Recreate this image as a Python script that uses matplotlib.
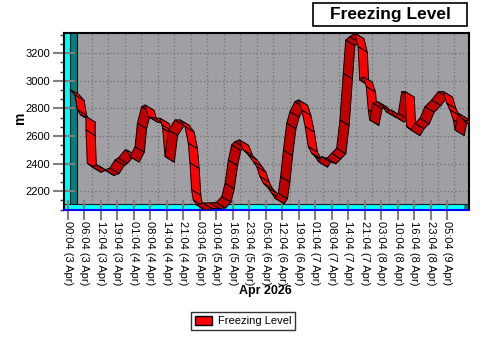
import numpy as np
import matplotlib
matplotlib.use('Agg')
import matplotlib.pyplot as plt
from matplotlib.collections import PolyCollection
from matplotlib.patches import Rectangle, Patch

plt.rcParams['font.family'] = ['Liberation Sans', 'DejaVu Sans']

# time axis is categorical: one unit = one tick label
tick_labels = ["00:04 (3 Apr)", "06:04 (3 Apr)", "12:04 (3 Apr)", "19:04 (3 Apr)",
               "01:04 (4 Apr)", "08:04 (4 Apr)", "14:04 (4 Apr)", "21:04 (4 Apr)",
               "03:04 (5 Apr)", "10:04 (5 Apr)", "16:04 (5 Apr)", "23:04 (5 Apr)",
               "05:04 (6 Apr)", "12:04 (6 Apr)", "19:04 (6 Apr)", "01:04 (7 Apr)",
               "08:04 (7 Apr)", "14:04 (7 Apr)", "21:04 (7 Apr)", "03:04 (8 Apr)",
               "10:04 (8 Apr)", "16:04 (8 Apr)", "23:04 (8 Apr)", "05:04 (9 Apr)"]

pos = [0.12, 0.42, 0.57, 0.77, 1.09, 1.09, 1.17, 1.44, 1.74, 1.94, 2.24, 2.55, 2.85,
       3.05, 3.46, 3.56, 3.76, 4.07, 4.21, 4.47, 4.67, 4.87, 5.28, 5.58, 5.70, 5.74,
       5.89, 6.09, 6.49, 6.80, 7.10, 7.30, 7.40, 7.50, 7.60, 7.80, 8.20, 8.60, 9.00,
       9.33, 9.53, 9.73, 9.93, 10.13, 10.40, 10.64, 10.94, 11.24, 11.45, 11.65, 11.85,
       12.15, 12.36, 12.56, 12.76, 12.90, 13.07, 13.27, 13.47, 13.77, 13.98, 14.18,
       14.39, 14.58, 14.79, 14.99, 15.19, 15.39, 15.70, 16.00, 16.30, 16.50, 16.70,
       16.85, 17.10, 17.40, 17.60, 17.70, 17.90, 18.10, 18.22, 18.30, 18.50, 18.80,
       19.10, 19.30, 19.60, 19.84, 20.04, 20.25, 20.45, 20.55, 20.80, 21.05, 21.36,
       21.66, 22.07, 22.47, 22.77, 22.98, 23.18, 23.38, 23.48, 23.68, 23.89, 24.09,
       24.30]
level = [2939, 2898, 2789, 2753, 2741, 2644, 2403, 2378, 2391, 2378, 2354, 2369,
         2427, 2441, 2499, 2499, 2451, 2523, 2693, 2813, 2825, 2741, 2729, 2729,
         2680, 2656, 2451, 2644, 2717, 2717, 2668, 2548, 2405, 2210, 2137, 2101,
         2115, 2115, 2118, 2161, 2258, 2427, 2536, 2560, 2572, 2499, 2463, 2415,
         2378, 2306, 2258, 2222, 2186, 2149, 2186, 2306, 2499, 2693, 2777, 2849,
         2862, 2789, 2668, 2523, 2475, 2451, 2415, 2451, 2439, 2475, 2512, 2717,
         3055, 3296, 3320, 3345, 3248, 3006, 3030, 2958, 2789, 2717, 2838, 2849,
         2813, 2777, 2789, 2741, 2765, 2922, 2922, 2668, 2644, 2693, 2729, 2813,
         2862, 2922, 2922, 2838, 2789, 2717, 2644, 2765, 2729, 2704, 2717]

order = np.argsort(pos, kind='stable')
x = np.array(pos)[order]
y = np.array(level)[order]

fig = plt.figure(figsize=(4.9, 3.45), dpi=100)
W, H = 490, 345
# axes box in pixels: left 64, right 469, top 33, bottom 210
ax = fig.add_axes([64 / W, 1 - 210 / H, 405 / W, 177 / H])
ax.set_xlim(-0.243, 24.33)
ax.set_ylim(2064, 3347)
ax.set_facecolor('#a0a0a4')

# depth of the 3d look, in data units (about 9 px right, 5-6 px down)
dx, dy = 0.56, -40

# walls
ax.add_patch(Rectangle((0, 0), 6 / 405, 1, transform=ax.transAxes,
                       facecolor='#00ffff', edgecolor='none', zorder=1))
ax.add_patch(Rectangle((6 / 405, 6 / 177), 7 / 405, 1, transform=ax.transAxes,
                       facecolor='#008080', edgecolor='black', lw=0.8, zorder=1))
ax.add_patch(Rectangle((0, 0), 1, 6 / 177, transform=ax.transAxes,
                       facecolor='#00ffff', edgecolor='none', zorder=1))
ax.add_patch(Rectangle((400 / 405, 0), 5 / 405, 6 / 177, transform=ax.transAxes,
                       facecolor='#008080', edgecolor='none', zorder=1))
ax.axhline(2064 + 6 / 177 * (3347 - 2064), color='#202020', lw=0.8, zorder=1.2)

# grid on the back wall
xt = np.arange(len(tick_labels))
ax.vlines(xt + 0.45, 2064 + 6 / 177 * (3347 - 2064), 3347, colors='#707070',
          linestyles=(0, (1, 2)), lw=0.9, zorder=0.5)
yt = np.arange(2200, 3300, 200)
ax.hlines(yt, 0.5, 24.33, colors='#707070',
          linestyles=(0, (1, 2)), lw=0.9, zorder=0.5)

# ribbon made of one face per segment
quads, cols = [], []
for i in range(len(x) - 1):
    quads.append([(x[i], y[i]), (x[i + 1], y[i + 1]),
                  (x[i + 1] + dx, y[i + 1] + dy), (x[i] + dx, y[i] + dy)])
    cols.append('#c00000' if y[i + 1] > y[i] else '#ff0000')
pc = PolyCollection(quads, facecolors=cols, edgecolors='black', linewidths=0.7,
                    zorder=3)
ax.add_collection(pc)

ax.set_xticks(xt)
ax.set_xticklabels(tick_labels, rotation=270, fontsize=8)
ax.set_yticks(yt)
ax.set_yticklabels([str(v) for v in yt], fontsize=8)
ax.set_yticks(np.arange(2200 - 400 / 3, 3347, 200 / 3), minor=True)
ax.tick_params(axis='x', direction='inout', length=14, width=1.5, color='#808080', pad=1)
ax.tick_params(axis='y', direction='inout', length=16, width=1.5, color='#808080', pad=2)
ax.tick_params(axis='y', which='minor', direction='out', length=3, width=1, color='#404040')

for s in ['left', 'top', 'right']:
    ax.spines[s].set_color('black')
    ax.spines[s].set_linewidth(1.5)
ax.spines['bottom'].set_color('#0000ff')
ax.spines['bottom'].set_linewidth(1.5)

fig.text(20 / W, 1 - 118 / H, 'm', rotation=90, fontsize=10, fontweight='bold',
         ha='center', va='center')
fig.text(265 / W, 1 - 291 / H, 'Apr 2026', fontsize=9, fontweight='bold',
         ha='center', va='center')

# title box
fig.patches.append(Rectangle((313 / W, 1 - 26 / H), 154 / W, 23 / H,
                             transform=fig.transFigure, facecolor='white',
                             edgecolor='black', lw=1.2))
fig.text(390 / W, 1 - 15 / H, 'Freezing Level', fontsize=12.5, fontweight='bold',
         ha='center', va='center')

handle = Patch(facecolor='#ff0000', edgecolor='black', label='Freezing Level')
leg = fig.legend(handles=[handle], loc='center', bbox_to_anchor=(243 / W, 1 - 321 / H),
                 fontsize=8, frameon=True, fancybox=False, handlelength=1.6,
                 handleheight=0.9, borderpad=0.35, handletextpad=0.5)
leg.get_frame().set_edgecolor('black')
leg.get_frame().set_linewidth(1)

fig.savefig('out.png', dpi=100)
